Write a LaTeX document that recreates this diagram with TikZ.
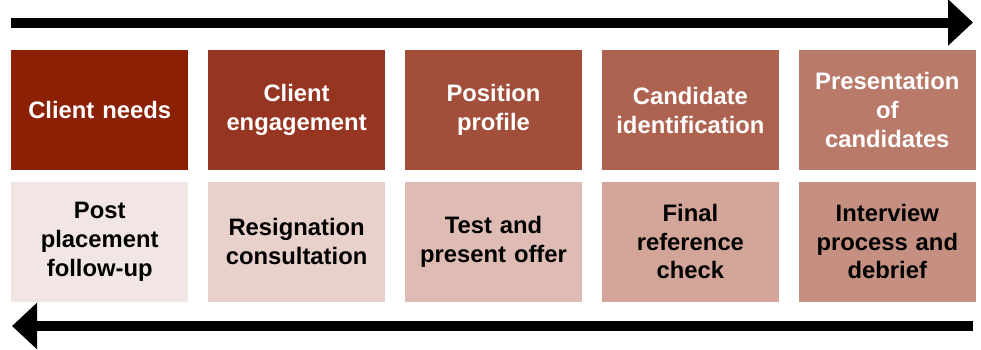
\documentclass[tikz,border=0pt]{standalone}
\usepackage{fontspec}
\setmainfont{Liberation Sans}
\usepackage{xcolor}
\usepackage{tikz}
\usetikzlibrary{positioning, arrows.meta}
\definecolor{topA}{RGB}{139,32,5}
\definecolor{topB}{RGB}{150,53,33}
\definecolor{topC}{RGB}{161,79,58}
\definecolor{topD}{RGB}{173,99,80}
\definecolor{topE}{RGB}{185,122,106}
\definecolor{botA}{RGB}{242,230,228}
\definecolor{botB}{RGB}{232,209,203}
\definecolor{botC}{RGB}{222,188,179}
\definecolor{botD}{RGB}{211,165,153}
\definecolor{botE}{RGB}{197,144,130}
\tikzset{
    stepbox/.style={
        rectangle,
        minimum width=177pt,
        minimum height=120pt,
        inner sep=2pt,
        text width=172pt,
        align=center,
        font=\bfseries\fontsize{23.8}{28.8}\selectfont
    },
    topbox/.style={stepbox, text=white},
    botbox/.style={stepbox, text=black},
    flow/.style={
        line width=10pt,
        -{Triangle[length=25pt, width=45pt]}
    }
}

\begin{document}
\begin{tikzpicture}[x=1pt, y=-1pt, node distance=11pt and 19.5pt]
        \useasboundingbox (0,0) rectangle (981,349);
        % upper row
        \node[topbox, fill=topA, anchor=north west] (needs) at (11,50) {Client needs};
        \node[topbox, fill=topB, right=of needs] (engage) {Client\\engagement};
        \node[topbox, fill=topC, right=of engage] (profile) {Position\\profile};
        \node[topbox, fill=topD, right=of profile] (ident) {Candidate\\identification};
        \node[topbox, fill=topE, right=of ident] (present) {Presentation\\of\\candidates};
        % lower row
        \node[botbox, fill=botA, below=of needs] (follow) {Post\\placement\\follow-up};
        \node[botbox, fill=botB, below=of engage] (resign) {Resignation\\consultation};
        \node[botbox, fill=botC, below=of profile] (offer) {Test and\\present offer};
        \node[botbox, fill=botD, below=of ident] (refcheck) {Final\\reference\\check};
        \node[botbox, fill=botE, below=of present] (interview) {Interview\\process and\\debrief};
        
        \coordinate (fwdStart) at (11,22.5);
        \coordinate (fwdEnd) at (973,22.5);
        \coordinate (backStart) at (973,326);
        \coordinate (backEnd) at (12,326);
        \draw[flow] (fwdStart) -- (fwdEnd);
        \draw[flow] (backStart) -- (backEnd);
    \end{tikzpicture}
\end{document}
